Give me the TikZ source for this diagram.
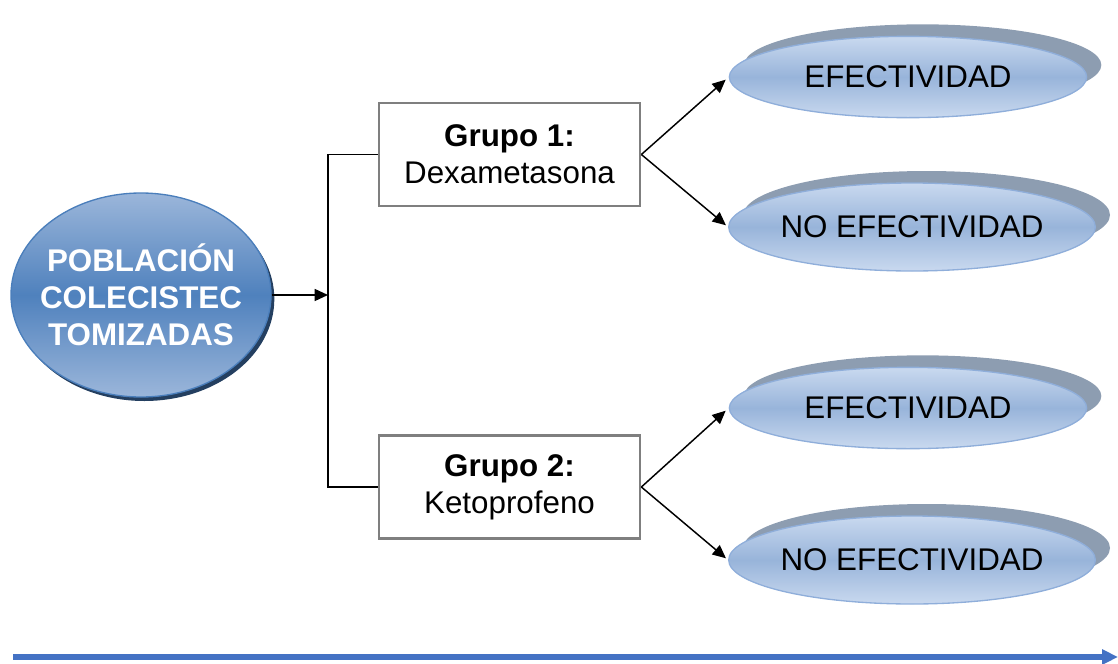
\documentclass[tikz,border=0pt]{standalone}
\usepackage{fontspec}
\setmainfont{Liberation Sans}
\usetikzlibrary{arrows.meta,positioning,shapes.geometric,shadows}
\definecolor{popblue}{HTML}{4F81BD}
\definecolor{poplight}{HTML}{9BB6DA}
\definecolor{popedge}{HTML}{4A7EBB}
\definecolor{popshadow}{HTML}{243F60}
\definecolor{resmid}{HTML}{98B4DA}
\definecolor{reslight}{HTML}{C9D9EF}
\definecolor{resedge}{HTML}{8FAEDA}
\definecolor{resshadow}{HTML}{8D9DB1}
\definecolor{boxgray}{HTML}{7F7F7F}
\definecolor{lineblue}{HTML}{4472C4}
\tikzset{
  bigfont/.style={font=\fontsize{23.5}{27.75}\selectfont},
  popnode/.style={ellipse, draw=popedge, line width=1pt, top color=poplight, bottom color=poplight, middle color=popblue, minimum width=195pt, minimum height=153pt, inner xsep=-8.5pt, inner ysep=0pt, align=center, text=white, font=\bfseries\fontsize{23.5}{27.75}\selectfont, drop shadow={shadow xshift=2.5pt, shadow yshift=-3pt, fill=popshadow, opacity=1}},
  grupo/.style={rectangle, draw=boxgray, line width=1.8pt, fill=white, minimum width=196pt, minimum height=77pt, align=center, bigfont},
  result/.style={ellipse, draw=resedge, line width=1pt, top color=reslight, bottom color=reslight, middle color=resmid, inner xsep=-2pt, inner ysep=0pt, bigfont, drop shadow={shadow xshift=11pt, shadow yshift=9pt, fill=resshadow, opacity=1}},
  arrow/.style={-{Triangle[length=10pt,width=9pt]}, line width=1.1pt},
  link/.style={line width=1.1pt},
  timeline/.style={-{Triangle[length=12pt,width=11pt]}, line width=4.5pt, lineblue}
}
\begin{document}
\begin{tikzpicture}[x=0.75pt, y=-0.75pt]
  \useasboundingbox (0,0) rectangle (1118,664);
  % population and split
  \node[popnode] (pop) at (141,295) {POBLACIÓN\\COLECISTEC\\TOMIZADAS};
  \coordinate (split) at (328,295);
  % groups
  \node[grupo] (g1) at (509.5,154.5) {\textbf{Grupo 1:}\\Dexametasona};
  \node[grupo] (g2) at (509.5,487) {\textbf{Grupo 2:}\\Ketoprofeno};
  % outcomes
  \node[result, minimum width=268pt, minimum height=61pt] (e1) at (908,77) {EFECTIVIDAD};
  \node[result, minimum width=275pt, minimum height=66pt] (n1) at (912,227) {NO EFECTIVIDAD};
  \node[result, minimum width=268pt, minimum height=61pt] (e2) at (908,408) {EFECTIVIDAD};
  \node[result, minimum width=275pt, minimum height=66pt] (n2) at (912,560) {NO EFECTIVIDAD};
  % connectors
  \draw[arrow] (pop) -- (split);
  \draw[link] (g1.west) -| (split) |- (g2.west);
  \draw[arrow, shorten >=3pt] (g1.east) -- (e1.west);
  \draw[arrow, shorten >=2pt] (g1.east) -- (n1.west);
  \draw[arrow, shorten >=3pt] (g2.east) -- (e2.west);
  \draw[arrow, shorten >=2pt] (g2.east) -- (n2.west);
  % time axis
  \coordinate (tstart) at (13,657);
  \coordinate (tend) at (1118,657);
  \draw[timeline] (tstart) -- (tend);
\end{tikzpicture}
\end{document}
